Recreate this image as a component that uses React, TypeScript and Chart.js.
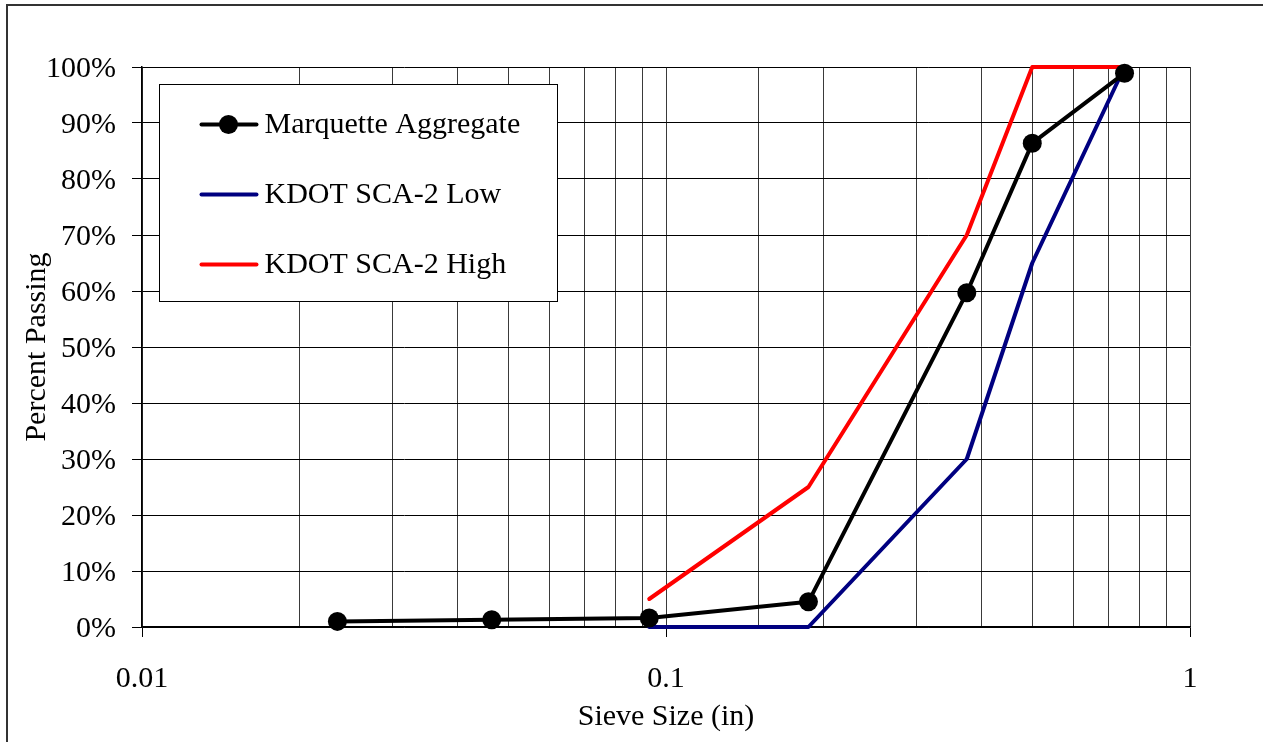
import React, { useEffect, useRef } from 'react';
import { Chart, registerables } from 'chart.js';

Chart.register(...registerables);

// ---- data ----
const sieveSizes = [0.0236, 0.0465, 0.0929, 0.187, 0.375, 0.5, 0.75];
const marquettePassing = [1.0, 1.3, 1.6, 4.5, 59.7, 86.4, 98.9];
const specSizes = [0.0929, 0.187, 0.375, 0.5, 0.75];
const kdotLow = [0, 0, 30, 65, 100];
const kdotHigh = [5, 25, 70, 100, 100];
const xTickLabels = ['0.01', '0.1', '1'];
const seriesNames = ['Marquette Aggregate', 'KDOT SCA-2 Low', 'KDOT SCA-2 High'];
const yTickStep = 10;

const FONT = "'Liberation Serif', 'Times New Roman', serif";

const decadeIndex = (v: number) => {
  if (v == null || !(v > 0)) return -1;
  const l = Math.log10(v);
  if (Math.abs(l - Math.round(l)) > 1e-6) return -1;
  return Math.round(l) + 2;
};

const framePlugin = {
  id: 'framePlugin',
  beforeDraw(chart: any) {
    const ctx = chart.ctx;
    ctx.save();
    ctx.fillStyle = '#fff';
    ctx.fillRect(0, 0, chart.width, chart.height);
    ctx.strokeStyle = '#333';
    ctx.lineWidth = 2;
    ctx.strokeRect(7, 5, chart.width + 20, chart.height + 20);
    ctx.restore();
  },
};

const insideLegend = {
  id: 'insideLegend',
  afterDraw(chart: any) {
    const ctx = chart.ctx;
    const area = chart.chartArea;
    const x0 = Math.round(area.left + 17) + 0.5;
    const y0 = Math.round(area.top + 17) + 0.5;
    const w = 398;
    const h = 217;
    ctx.save();
    ctx.fillStyle = '#fff';
    ctx.fillRect(x0, y0, w, h);
    ctx.strokeStyle = '#000';
    ctx.lineWidth = 1;
    ctx.strokeRect(x0, y0, w, h);
    chart.data.datasets.forEach((ds: any, i: number) => {
      const cy = y0 + 40 + i * 70;
      ctx.strokeStyle = ds.borderColor;
      ctx.lineWidth = 4;
      ctx.lineCap = 'round';
      ctx.beginPath();
      ctx.moveTo(x0 + 42, cy);
      ctx.lineTo(x0 + 97, cy);
      ctx.stroke();
      if (ds.pointRadius > 0) {
        ctx.fillStyle = ds.pointBackgroundColor;
        ctx.beginPath();
        ctx.arc(x0 + 69, cy, ds.pointRadius, 0, Math.PI * 2);
        ctx.fill();
      }
      ctx.fillStyle = '#000';
      ctx.font = `30px ${FONT}`;
      ctx.textBaseline = 'middle';
      ctx.textAlign = 'left';
      ctx.fillText(ds.label, x0 + 105, cy + 1);
    });
    ctx.restore();
  },
};

export default function App() {
  const ref = useRef<HTMLCanvasElement>(null);

  useEffect(() => {
    Chart.defaults.font.family = FONT;
    const chart = new Chart(ref.current as HTMLCanvasElement, {
      type: 'line',
      data: {
        datasets: [
          {
            label: seriesNames[0],
            data: sieveSizes.map((x, i) => ({ x, y: marquettePassing[i] })),
            borderColor: '#000000',
            backgroundColor: '#000000',
            pointBackgroundColor: '#000000',
            pointBorderColor: '#000000',
            borderWidth: 4,
            pointRadius: 9.5,
            pointBorderWidth: 0,
            borderCapStyle: 'round',
            borderJoinStyle: 'round',
            tension: 0,
            clip: false,
          },
          {
            label: seriesNames[1],
            data: specSizes.map((x, i) => ({ x, y: kdotLow[i] })),
            borderColor: '#000080',
            backgroundColor: '#000080',
            borderWidth: 4,
            pointRadius: 0,
            borderCapStyle: 'round',
            borderJoinStyle: 'round',
            tension: 0,
            clip: false,
          },
          {
            label: seriesNames[2],
            data: specSizes.map((x, i) => ({ x, y: kdotHigh[i] })),
            borderColor: '#FF0000',
            backgroundColor: '#FF0000',
            borderWidth: 4,
            pointRadius: 0,
            borderCapStyle: 'round',
            borderJoinStyle: 'round',
            tension: 0,
            clip: false,
          },
        ],
      } as any,
      options: {
        responsive: false,
        animation: false,
        devicePixelRatio: 1,
        events: [],
        layout: { padding: { left: 0, top: 67, right: 73, bottom: 0 } },
        plugins: {
          legend: { display: false },
          tooltip: { enabled: false },
        },
        scales: {
          x: {
            type: 'logarithmic',
            position: 'bottom',
            min: 0.01,
            max: 1,
            afterFit: (s: any) => {
              s.height = 115;
            },
            ticks: {
              autoSkip: false,
              maxRotation: 0,
              minRotation: 0,
              padding: 24,
              color: '#000',
              font: { size: 30, family: FONT },
              callback: (v: any) => {
                const k = decadeIndex(Number(v));
                return k >= 0 ? xTickLabels[k] : '';
              },
            },
            grid: {
              color: '#3a3a3a',
              lineWidth: 1,
              tickLength: 10,
              tickColor: (c: any) =>
                c.tick && decadeIndex(c.tick.value) >= 0 ? '#000' : 'rgba(0,0,0,0)',
            },
            border: { color: '#000', width: 1.5 },
            title: {
              display: true,
              text: 'Sieve Size (in)',
              color: '#000',
              font: { size: 30, family: FONT },
              padding: { top: 0, bottom: 7 },
            },
          },
          y: {
            min: 0,
            max: 100,
            afterFit: (s: any) => {
              s.width = 142;
            },
            ticks: {
              stepSize: yTickStep,
              padding: 16,
              labelOffset: 2,
              color: '#000',
              font: { size: 30, family: FONT },
              callback: (v: any) => `${v}%`,
            },
            grid: { color: '#000', lineWidth: 1, tickLength: 10 },
            border: { color: '#000', width: 1.5 },
            title: {
              display: true,
              text: 'Percent Passing',
              color: '#000',
              font: { size: 30, family: FONT },
              padding: { top: 19, bottom: 0 },
            },
          },
        },
      } as any,
      plugins: [framePlugin, insideLegend],
    });
    return () => chart.destroy();
  }, []);

  return (
    <div style={{ position: 'fixed', left: 0, top: 0, width: 1263, height: 742, background: '#fff' }}>
      <canvas ref={ref} width={1263} height={742} style={{ display: 'block', width: 1263, height: 742 }} />
    </div>
  );
}
